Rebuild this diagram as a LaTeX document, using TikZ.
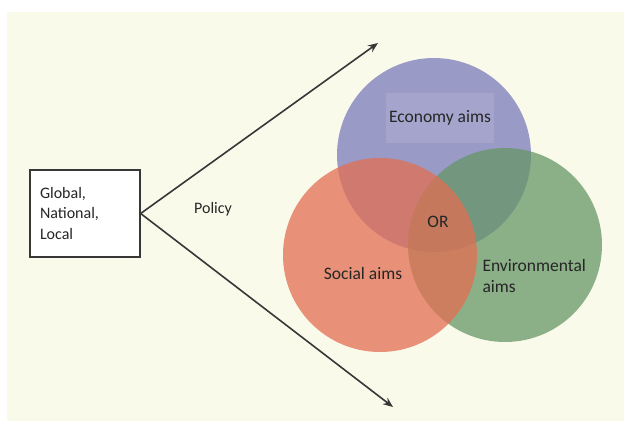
\documentclass[tikz,border=0pt]{standalone}
\usepackage{fontspec}
\setmainfont{Carlito}
\usepackage{tikz}
\usetikzlibrary{arrows.meta}

\definecolor{paper}{RGB}{250,250,235}
\definecolor{econ}{RGB}{123,123,188}
\definecolor{envir}{RGB}{103,150,102}
\definecolor{soc}{RGB}{226,110,82}
\definecolor{ink}{RGB}{55,55,55}

\tikzset{
    aim/.style={fill opacity=0.75, draw=none},
    lbl/.style={font=\fontsize{17.5}{21}\selectfont, text=black!85},
    boxlbl/.style={font=\fontsize{16}{20.5}\selectfont, text=black!85},
    pol/.style={draw=ink, line width=1.6pt, -{Stealth[length=10pt,width=8pt]}}
}

\begin{document}
\begin{tikzpicture}[x=1pt, y=-1pt]
        % page
        \fill[white] (0,0) rectangle (624,425);
        \fill[paper] (7,12) rectangle (624,421);
        \useasboundingbox (0,0) rectangle (624,425);
        % circles
        \fill[econ, aim] (434,155) circle (97pt);
        \fill[envir, aim] (505,245) circle (97pt);
        \fill[soc, aim] (380,255) circle (97pt);
        \node[lbl, fill=white, fill opacity=0.1, text opacity=1, minimum width=88pt, minimum height=50pt] (econlbl) at (440,118) {Economy aims};
        \node[lbl] (orlbl) at (438,222) {OR};
        \node[lbl] (soclbl) at (363,273) {Social aims};
        \node[lbl, anchor=west, align=left] (envlbl) at (479,276) {Environmental\\aims};
        % source box and arrows
        \node[boxlbl, draw=ink, line width=1.3pt, fill=white, minimum width=110pt, minimum height=87pt, text width=90pt, align=left] (src) at (85,213.5) {Global,\\National,\\Local};
        \coordinate (uptip) at (378,43);
        \coordinate (downtip) at (393,407);
        \draw[pol] (src.east) -- (uptip);
        \draw[pol] (src.east) -- (downtip);
        \node[boxlbl] (policy) at (213,209) {Policy};
    \end{tikzpicture}
\end{document}
